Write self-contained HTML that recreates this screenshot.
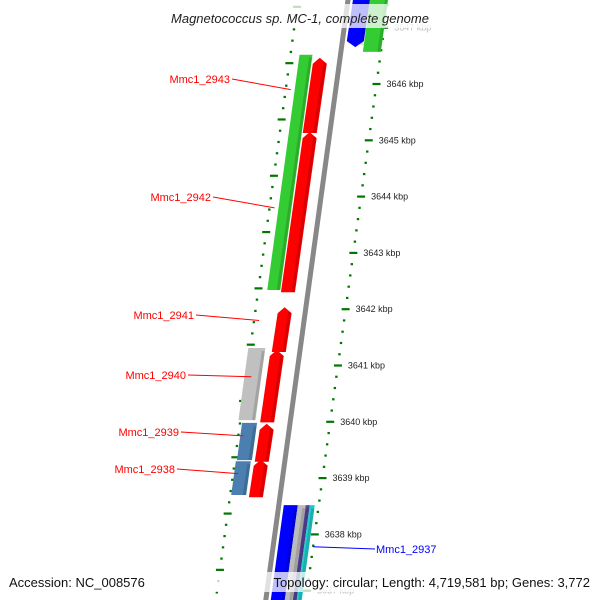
<!DOCTYPE html>
<html><head><meta charset="utf-8"><style>
html,body{margin:0;background:#fff;width:600px;height:600px;overflow:hidden;}
svg{display:block;font-family:"Liberation Sans","DejaVu Sans",sans-serif;}
</style></head><body>
<svg id="map" width="600" height="600" viewBox="0 0 600 600" xmlns="http://www.w3.org/2000/svg">
<g id="layer"></g>
<rect x="0" y="4" width="600" height="24" fill="#fff" opacity="0.75"/>
<text x="300" y="23" text-anchor="middle" font-size="13" font-style="italic" fill="#222">Magnetococcus sp. MC‑1, complete genome</text>
<rect x="0" y="572" width="600" height="20" fill="#fff" opacity="0.75"/>
<text x="9" y="587" font-size="13" fill="#111">Accession: NC_008576</text>
<text x="590" y="587" text-anchor="end" font-size="13" fill="#111">Topology: circular; Length: 4,719,581 bp; Genes: 3,772</text>
</svg>
<script>
const tickKbp=[3647,3646,3645,3644,3643,3642,3641,3640,3639,3638,3637];
const geneNames=["green-2942-2943","red-2943","red-2942","red-2941","red-2940","red-2939","red-2938","gray-gene","steel-1","steel-2","blue-top","green-top","blue-bottom","gray-bottom","purple-bottom","cyan-bottom"];
const geneStart=[3646.52,3646.43,3645.11,3642.0,3641.24,3639.93,3639.29,3641.31,3639.98,3639.30,3647.6,3647.6,3638.52,3638.52,3638.52,3638.52];
const geneEnd=[3642.34,3645.13,3642.30,3641.24,3639.99,3639.29,3638.66,3640.03,3639.32,3638.70,3646.69,3646.57,3636.7,3636.7,3636.7,3636.7];
const geneInner=[-41,-27,-27,-28,-30,-30,-31,-52,-48,-49,5,22,5,19,27,31];
const geneOuter=[-28,-13,-13,-14,-16,-16,-17,-35,-33,-34,22,40,19,27,31,36];
const geneColor=["#33cc33","#ff0000","#ff0000","#ff0000","#ff0000","#ff0000","#ff0000","#c0c0c0","#4a7fb0","#4a7fb0","#0000ff","#33cc33","#0000ff","#bbbbbb","#554499","#22cccc"];
const geneArrow=[0,1,1,1,1,1,1,0,0,0,-1,0,0,0,0,0];
const labelText=["Mmc1_2943","Mmc1_2942","Mmc1_2941","Mmc1_2940","Mmc1_2939","Mmc1_2938","Mmc1_2937"];
const labelKbp=[3645.9,3643.8,3641.8,3640.8,3639.75,3639.08,3637.78];
const labelOff=[-45,-45,-45,-45,-45,-45,40];
const labelX=[230,211,194,186,179,175,376];
const labelY=[83,201,319,379,436,473,553];
const labelColor=["#ff0000","#ff0000","#ff0000","#ff0000","#ff0000","#ff0000","#0000ff"];

const NS="http://www.w3.org/2000/svg";
const L=document.getElementById('layer');
function Y(k){return 84+(3646-k)*56.3;}
function X(k,off){const y=Y(k);return 348-0.137*y+off;}
function mk(t,a){const e=document.createElementNS(NS,t);for(const k in a)e.setAttribute(k,a[k]);L.appendChild(e);return e;}

let bb=mk('line',{x1:X(3647.7,0),y1:Y(3647.7),x2:X(3636.4,0),y2:Y(3636.4),stroke:'#888','stroke-width':5});



for(let i=0;i<=55;i++){
  const k=3647.6-i*0.2;
  const isT=Math.abs(k-Math.round(k))<0.01;
  const r=mk('line',{x1:X(k,40)-(isT?4:1.2),y1:Y(k),x2:X(k,40)+(isT?4:1.2),y2:Y(k),stroke:'#007700','stroke-width':2.2});
  
  
  const k2=k+0.37;
  const l=mk('line',{x1:X(k2,-50)-(isT?4:1.2),y1:Y(k2),x2:X(k2,-50)+(isT?4:1.2),y2:Y(k2),stroke:'#007700','stroke-width':2.2});
  
  
}
for(let i=0;i<geneNames.length;i++){
  const s=geneStart[i],e=geneEnd[i],a=geneInner[i],b=geneOuter[i];
  const ys=Y(s),ye=Y(e);
  let pts=[[X(s,a),ys],[X(s,b),ys],[X(e,b),ye],[X(e,a),ye]];
  if(geneArrow[i]===1){
    pts=[[X(s,a),ys+4],[(X(s,a)+X(s,b))/2,ys-2],[X(s,b),ys+4],[X(e,b),ye],[X(e,a),ye]];
  } else if(geneArrow[i]===-1){
    pts=[[X(s,a),ys],[X(s,b),ys],[X(e,b),ye-4],[(X(e,a)+X(e,b))/2,ye+2],[X(e,a),ye-4]];
  }
  const p=mk('polygon',{points:pts.map(q=>q.join(',')).join(' '),fill:geneColor[i]});
  
  
  const sh=mk('line',{x1:X(s,b)-2,y1:ys+3,x2:X(e,b)-2,y2:ye,stroke:'#000','stroke-opacity':0.15,'stroke-width':3});
  
  
}
for(let i=0;i<tickKbp.length;i++){
  const k=tickKbp[i];
  const t=mk('text',{x:X(k,40)+10,y:Y(k)+3,'font-size':9,fill:(k===3647||k===3637)?'#bbb':'#222'});
  t.textContent=k+' kbp';
  
  
}
for(let i=0;i<labelText.length;i++){
  const k=labelKbp[i],gx=X(k,labelOff[i]),gy=Y(k);
  const right=labelOff[i]>0;
  const ln=mk('line',{x1:gx,y1:gy,x2:right?labelX[i]-1:labelX[i]+2,y2:labelY[i]-4,stroke:labelColor[i],'stroke-width':1});
  
  
  const t=mk('text',{x:labelX[i],y:labelY[i],'font-size':11,fill:labelColor[i],'text-anchor':right?'start':'end'});
  t.textContent=labelText[i];
  
  
}
</script>
</body></html>
